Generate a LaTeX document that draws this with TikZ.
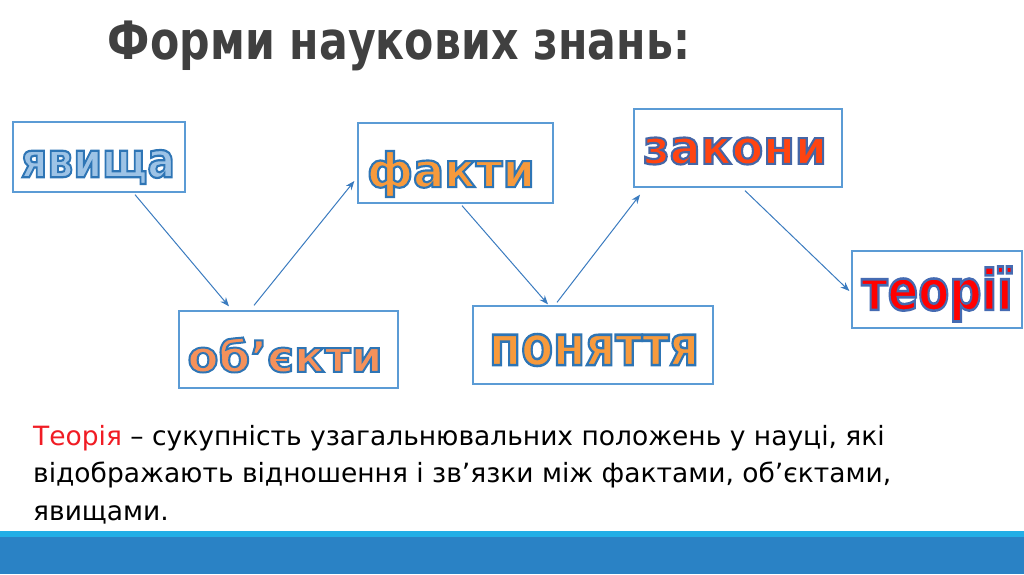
\documentclass[tikz,border=0pt]{standalone}
\usepackage{fontspec}
\setmainfont{DejaVu Sans}
\usetikzlibrary{positioning,arrows.meta}

\definecolor{frameblue}{HTML}{5B9BD5}
\definecolor{arrowblue}{HTML}{3A7BBF}
\definecolor{titlegray}{HTML}{404040}
\definecolor{barlight}{HTML}{22AEE6}
\definecolor{bardark}{HTML}{2A82C5}
\definecolor{skyfill}{HTML}{9DC3E6}
\definecolor{orangefill}{HTML}{F79A3C}
\definecolor{salmonfill}{HTML}{F4915B}
\definecolor{scarletfill}{HTML}{FF4411}
\definecolor{redfill}{HTML}{FF0000}
\definecolor{theoryred}{HTML}{F01C24}

% outlined word: fill colour, stroke rgb, text
\newcommand{\outlineword}[3]{{\color{#1}\special{pdf:literal direct #2 RG}%
  \special{pdf:literal direct 2 Tr 2 w}#3\special{pdf:literal direct 0 Tr}}}

\begin{document}
\begin{tikzpicture}[
  x=1pt,
  y=-1pt,
  wordbox/.style={draw=frameblue, line width=1.3pt, inner sep=0pt},
  word/.style={font=\fontsize{44}{44}\selectfont\bfseries, inner sep=0pt},
  link/.style={draw=arrowblue, line width=1pt, -{Stealth[length=9pt,width=7pt]}},
  bodytext/.style={font=\fontsize{26.5}{30}\selectfont, inner sep=0pt, anchor=base west}
]
\useasboundingbox (0,0) rectangle (1024,574);

% bottom bar
\fill[barlight] (0,531) rectangle (1024,537);
\fill[bardark] (0,537) rectangle (1024,574);

% title
\node[font=\bfseries, text=titlegray, inner sep=0pt] (title) at (399,46)
  {\resizebox*{582pt}{50pt}{Форми наукових знань:}};

% frames
\node[wordbox, minimum width=172pt, minimum height=70pt] (yav) at (99,157) {};
\node[wordbox, minimum width=195pt, minimum height=80pt] (fak) at (455.5,163) {};
\node[wordbox, minimum width=208pt, minimum height=78pt] (zak) at (738,148) {};
\node[wordbox, minimum width=219pt, minimum height=77pt] (obj) at (288.5,349.5) {};
\node[wordbox, minimum width=240pt, minimum height=78pt] (pon) at (593,345) {};
\node[wordbox, minimum width=170pt, minimum height=77pt] (teo) at (937,289.5) {};

% links
\draw[link] ([xshift=36pt,yshift=-2pt]yav.south) -- ([xshift=-59.5pt,yshift=4pt]obj.north);
\draw[link] ([xshift=-34.5pt,yshift=5pt]obj.north) -- ([xshift=-3pt,yshift=-18pt]fak.west);
\draw[link] ([xshift=6.5pt,yshift=-2pt]fak.south) -- ([xshift=-45pt,yshift=1pt]pon.north);
\draw[link] ([xshift=-36pt,yshift=3pt]pon.north) -- ([xshift=-98pt,yshift=-7pt]zak.south);
\draw[link] ([xshift=7pt,yshift=-3pt]zak.south) -- ([xshift=-2pt,yshift=-1.5pt]teo.west);

% definition
\node[bodytext] (line1) at (33,445)
  {\textcolor{theoryred}{Теорія} – сукупність узагальнювальних положень у науці, які};
\node[bodytext] (line2) at (33,482)
  {відображають відношення і зв’язки між фактами, об’єктами,};
\node[bodytext] (line3) at (33,520) {явищами.};

% words
\node[word] (yavword) at (98,167)
  {\resizebox*{154pt}{34pt}{\outlineword{skyfill}{0.18 0.46 0.71}{явища}}};
\node[word] (fakword) at (451,174)
  {\resizebox*{168pt}{46pt}{\outlineword{orangefill}{0.18 0.46 0.71}{факти}}};
\node[word] (zakword) at (735,151)
  {\resizebox*{184pt}{27pt}{\outlineword{scarletfill}{0.27 0.40 0.65}{закони}}};
\node[word] (objword) at (285,355)
  {\resizebox*{195pt}{35pt}{\outlineword{salmonfill}{0.18 0.46 0.71}{об’єкти}}};
\node[word] (ponword) at (594,350)
  {\resizebox*{210pt}{32pt}{\outlineword{orangefill}{0.18 0.46 0.71}{поняття}}};
\node[word] (teoword) at (937,294)
  {\resizebox*{151pt}{55pt}{\outlineword{redfill}{0.27 0.42 0.70}{теорії}}};
\end{tikzpicture}
\end{document}
